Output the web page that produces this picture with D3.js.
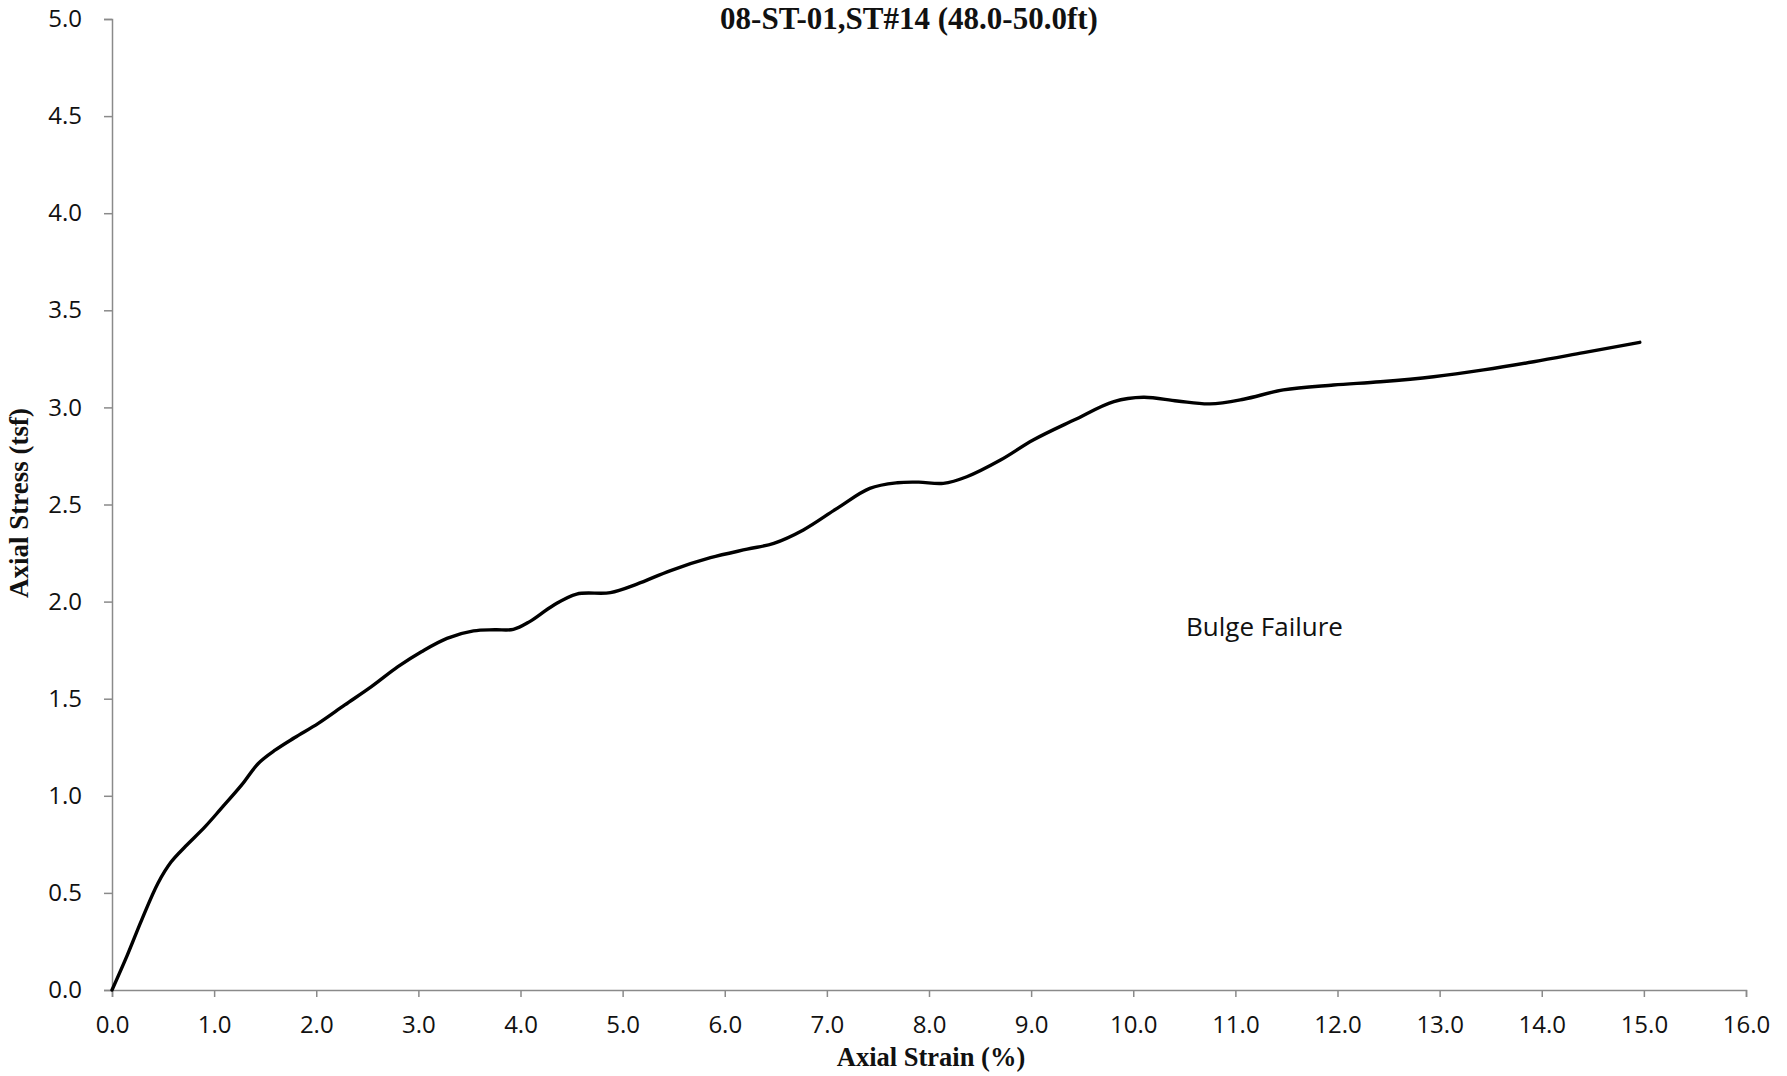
<!DOCTYPE html>
<html>
<head>
<meta charset="utf-8">
<script src="https://cdn.jsdelivr.net/npm/d3@7"></script>
<style>
  html, body { margin: 0; padding: 0; background: #fff; }
  svg { display: block; }
</style>
</head>
<body>
<svg id="chart" width="1787" height="1076"></svg>
<script>
const title = "08-ST-01,ST#14 (48.0-50.0ft)";
const xTitle = "Axial Strain (%)";
const yTitle = "Axial Stress (tsf)";
const note = "Bulge Failure";

const xTicks = [0,1,2,3,4,5,6,7,8,9,10,11,12,13,14,15,16];
const yTicks = [0,0.5,1,1.5,2,2.5,3,3.5,4,4.5,5];

const strain = [0, 0.15, 0.29, 0.45, 0.58, 0.72, 0.91, 1.07, 1.27, 1.43, 1.60, 1.79, 2.02, 2.28, 2.54, 2.80, 3.03, 3.28, 3.54, 3.75, 3.93, 4.09, 4.32, 4.55, 4.88, 5.14, 5.47, 5.86, 6.22, 6.48, 6.77, 7.10, 7.42, 7.69, 7.90, 8.14, 8.37, 8.70, 9.02, 9.42, 9.81, 10.10, 10.43, 10.75, 11.08, 11.47, 11.96, 12.42, 12.94, 13.43, 13.92, 14.41, 14.96];
const stress = [0, 0.18, 0.36, 0.55, 0.66, 0.74, 0.84, 0.935, 1.056, 1.165, 1.236, 1.30, 1.373, 1.468, 1.562, 1.665, 1.742, 1.811, 1.849, 1.855, 1.857, 1.897, 1.98, 2.039, 2.046, 2.09, 2.16, 2.226, 2.27, 2.30, 2.369, 2.48, 2.583, 2.612, 2.615, 2.609, 2.643, 2.729, 2.832, 2.935, 3.03, 3.052, 3.033, 3.018, 3.042, 3.09, 3.115, 3.132, 3.158, 3.193, 3.235, 3.282, 3.335];

const svg = d3.select("#chart");
const x = d3.scaleLinear().domain([0,16]).range([112,1746]);
const y = d3.scaleLinear().domain([0,5]).range([990,19]);
const axisColor = "#8a8a8a";
const tickFont = "'Open Sans', sans-serif";
const serif = "'Liberation Serif', 'Times New Roman', serif";

// X axis
const gx = svg.append("g").attr("transform", `translate(0,${y(0)})`)
  .call(d3.axisBottom(x).tickValues(xTicks).tickFormat(d3.format(".1f")).tickSizeOuter(0).tickSize(7));
gx.select(".domain").attr("stroke", axisColor).attr("stroke-width", 1.5);
gx.selectAll(".tick line").attr("stroke", axisColor).attr("stroke-width", 1.5);
gx.selectAll(".tick text").attr("y", 26).attr("dy", "0.71em")
  .attr("font-family", tickFont).attr("font-size", 24).attr("fill", "#111");

// Y axis
const gy = svg.append("g").attr("transform", `translate(${x(0)},0)`)
  .call(d3.axisLeft(y).tickValues(yTicks).tickFormat(d3.format(".1f")).tickSizeOuter(0).tickSize(8).tickPadding(22));
gy.select(".domain").attr("stroke", axisColor).attr("stroke-width", 1.5);
gy.selectAll(".tick line").attr("stroke", axisColor).attr("stroke-width", 1.5);
gy.selectAll(".tick text")
  .attr("font-family", tickFont).attr("font-size", 24).attr("fill", "#111");

// Curve
const pts = strain.map((s, i) => [s, stress[i]]);
svg.append("path").datum(pts)
  .attr("fill", "none").attr("stroke", "#000").attr("stroke-width", 3.4)
  .attr("stroke-linejoin", "round").attr("stroke-linecap", "round")
  .attr("d", d3.line().x(d => x(d[0])).y(d => y(d[1])).curve(d3.curveCatmullRom.alpha(0.5)));

// Titles
svg.append("text").attr("x", 909).attr("y", 29).attr("text-anchor", "middle")
  .attr("font-family", serif).attr("font-weight", "bold")
  .attr("font-size", 31).attr("fill", "#111").text(title);

svg.append("text").attr("x", 931).attr("y", 1066).attr("text-anchor", "middle")
  .attr("font-family", serif).attr("font-weight", "bold")
  .attr("font-size", 26.5).attr("fill", "#111").text(xTitle);

svg.append("text").attr("transform", "translate(28,503) rotate(-90)").attr("text-anchor", "middle")
  .attr("font-family", serif).attr("font-weight", "bold")
  .attr("font-size", 27).attr("fill", "#111").text(yTitle);

svg.append("text").attr("x", 1186).attr("y", 636)
  .attr("font-family", tickFont).attr("font-size", 26).attr("fill", "#111").text(note);
</script>
</body>
</html>
